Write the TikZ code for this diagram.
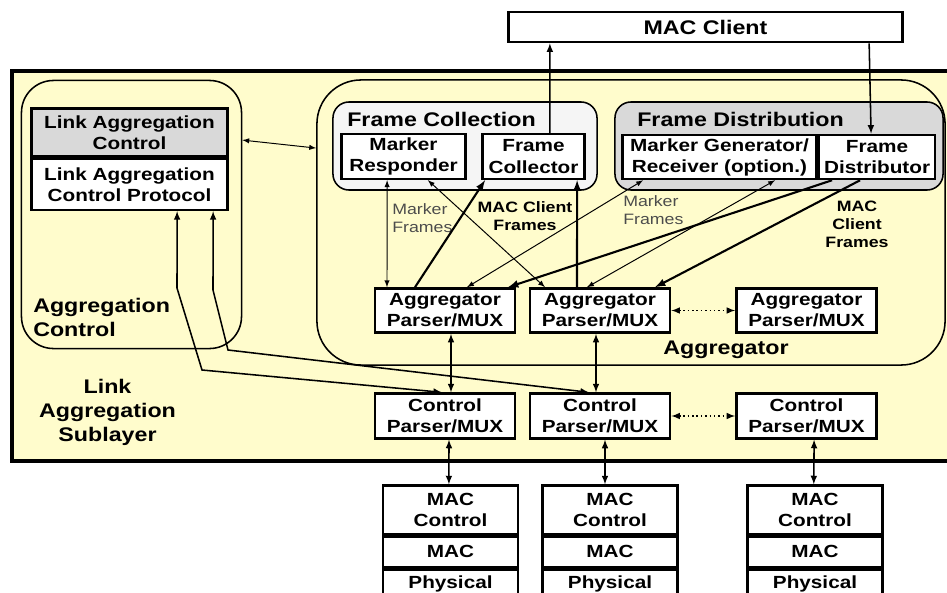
\documentclass[tikz,border=0pt]{standalone}
\usepackage{fontspec}
\setmainfont[FakeStretch=1.18]{Liberation Sans}
\usetikzlibrary{positioning}

\definecolor{sublayer}{RGB}{255,252,204}
\definecolor{boxgray}{RGB}{217,217,217}
\definecolor{collgray}{RGB}{245,245,245}

\newcommand\boxfont{\fontsize{12.5}{15}\selectfont\bfseries}
\newcommand\titlefont{\fontsize{14}{17}\selectfont\bfseries}
\newcommand\notefont{\fontsize{10.7}{12.8}\selectfont}

\tikzset{
  box/.style={draw, line width=1.8pt, fill=white, align=center, inner sep=0pt, font=\boxfont},
  phybox/.style={box, minimum width=3.37cm, minimum height=0.9cm, text depth=0.25cm},
  group/.style={draw, line width=1.1pt, rounded corners=#1, inner sep=0pt},
  group/.default=0.8cm,
  textlbl/.style={inner sep=0pt, align=center},
  thinarr/.style={line width=0.7pt},
  midarr/.style={line width=1.1pt},
  thickarr/.style={line width=1.5pt}
}

\begin{document}
\begin{tikzpicture}[x=0.025cm, y=-0.025cm, >=latex]
  \clip (0,0) rectangle (947,592);

  % sublayer and the two groups inside it
  \draw[line width=2.2pt, fill=sublayer] (12,71) rectangle (955,461);
  \node[group=0.8cm, minimum width=5.5cm, minimum height=6.7cm] (aggctl) at (131.5,214.5) {};
  \node[group=1.1cm, minimum width=15.7cm, minimum height=7.125cm] (aggr) at (631,222.5) {};
  \node[group=0.4cm, fill=collgray, minimum width=6.6cm, minimum height=2.2cm] (fcolbox) at (465,146) {};
  \node[group=0.4cm, fill=boxgray, minimum width=8.2cm, minimum height=2.2cm] (fdisbox) at (779,146) {};

  \node[textlbl, anchor=west, font=\titlefont] (fcoltitle) at (347,119) {Frame Collection};
  \node[textlbl, anchor=west, font=\titlefont] (fdistitle) at (637,119) {Frame Distribution};

  % boxes
  \node[box, font=\titlefont, minimum width=9.85cm, minimum height=0.75cm] (client) at (705.5,27) {MAC Client};

  \node[box, fill=boxgray, minimum width=4.9cm, minimum height=1.2cm] (lac) at (129.5,132.5) {Link Aggregation\\Control};
  \node[box, minimum width=4.9cm, minimum height=1.27cm, below=0pt of lac] (lacp) {Link Aggregation\\Control Protocol};

  \node[box, minimum width=3.1cm, minimum height=1.12cm] (mresp) at (403.5,156.5) {Marker\\Responder};
  \node[box, minimum width=2.55cm, minimum height=1.12cm] (fcoll) at (533.5,156.5) {Frame\\Collector};
  \node[box, minimum width=4.85cm, minimum height=1.1cm] (mgen) at (719.5,157) {Marker Generator/\\Receiver (option.)};
  \node[box, minimum width=2.9cm, minimum height=1.1cm, right=0pt of mgen] (fdist) {Frame\\Distributor};

  \node[box, minimum width=3.5cm, minimum height=1.1cm] (aggA) at (445,310.5) {Aggregator\\Parser/MUX};
  \node[box, minimum width=3.5cm, minimum height=1.1cm] (aggB) at (600,310.5) {Aggregator\\Parser/MUX};
  \node[box, minimum width=3.5cm, minimum height=1.1cm] (aggC) at (806.5,310.5) {Aggregator\\Parser/MUX};

  \node[box, minimum width=3.5cm, minimum height=1.12cm] (ctlA) at (445,416) {Control\\Parser/MUX};
  \node[box, minimum width=3.5cm, minimum height=1.12cm] (ctlB) at (600,416) {Control\\Parser/MUX};
  \node[box, minimum width=3.5cm, minimum height=1.12cm] (ctlC) at (806.5,416) {Control\\Parser/MUX};

  % MAC stacks
  \node[box, minimum width=3.37cm, minimum height=1.22cm] (mcA) at (450.5,510) {MAC\\Control};
  \node[box, minimum width=3.37cm, minimum height=0.75cm, below=0pt of mcA] (macA) {MAC};
  \node[phybox, below=0pt of macA] (phyA) {Physical};
  \node[box, minimum width=3.37cm, minimum height=1.22cm] (mcB) at (610,510) {MAC\\Control};
  \node[box, minimum width=3.37cm, minimum height=0.75cm, below=0pt of mcB] (macB) {MAC};
  \node[phybox, below=0pt of macB] (phyB) {Physical};
  \node[box, minimum width=3.37cm, minimum height=1.22cm] (mcC) at (815,510) {MAC\\Control};
  \node[box, minimum width=3.37cm, minimum height=0.75cm, below=0pt of mcC] (macC) {MAC};
  \node[phybox, below=0pt of macC] (phyC) {Physical};

  % labels
  \node[textlbl, anchor=west, align=left, font=\titlefont] (aggctllbl) at (33,317.5) {Aggregation\\Control};
  \node[textlbl, font=\titlefont] (sublbl) at (107.5,412) {Link\\Aggregation\\Sublayer};
  \node[textlbl, font=\titlefont] (aggrlbl) at (726,350) {Aggregator};
  \node[textlbl, anchor=west, align=left, font=\notefont, text=black!70] (mframesA) at (392,218) {Marker\\Frames};
  \node[textlbl, font=\notefont\bfseries] (cframesA) at (525,216) {MAC Client\\Frames};
  \node[textlbl, anchor=west, align=left, font=\notefont, text=black!70] (mframesB) at (623,210.5) {Marker\\Frames};
  \node[textlbl, font=\notefont\bfseries] (cframesB) at (857,224) {MAC\\Client\\Frames};

  % MAC client
  \draw[->, midarr] ([xshift=0.41cm]fcoll.north) -- ([xshift=-3.89cm]client.south);
  \draw[->, midarr] ([xshift=4.09cm]client.south) -- ([xshift=-0.15cm]fdist.north);
  \draw[<->, thinarr] ([yshift=1.86cm]aggctl.east) -- ([yshift=1.86cm]aggr.west);

  % frame collection / distribution
  \draw[<->, thinarr] ([xshift=-0.41cm]mresp.south) -- ([xshift=-1.45cm]aggA.north);
  \draw[->, thickarr] ([xshift=-0.75cm]aggA.north) -- ([xshift=-1.21cm]fcoll.south);
  \draw[<->, thinarr] ([xshift=-1.375cm]aggB.north) -- ([xshift=0.61cm]mresp.south);
  \draw[->, thickarr] ([xshift=-0.575cm]aggB.north) -- ([xshift=1.09cm]fcoll.south);
  \draw[<->, thinarr] ([xshift=-1.91cm]mgen.south) -- ([xshift=0.55cm]aggA.north);
  \draw[<->, thinarr] ([xshift=1.39cm]mgen.south) -- ([xshift=-0.325cm]aggB.north);
  \draw[->, thickarr] ([xshift=-1.125cm]fdist.south) -- ([xshift=1.575cm]aggA.north);
  \draw[->, thickarr] ([xshift=-0.425cm]fdist.south) -- ([xshift=1.375cm]aggB.north);

  % parsers
  \draw[<->, midarr] ([xshift=0.15cm]aggA.south) -- ([xshift=0.15cm]ctlA.north);
  \draw[<->, midarr] ([xshift=-0.1cm]aggB.south) -- ([xshift=-0.1cm]ctlB.north);
  \draw[<->, midarr, dotted] (aggB.east) -- (aggC.west);
  \draw[<->, midarr, dotted] (ctlB.east) -- (ctlC.west);
  \draw[<->, midarr] ([xshift=0.1cm]ctlA.south) -- ([xshift=-0.04cm]mcA.north);
  \draw[<->, midarr] ([xshift=0.125cm]ctlB.south) -- ([xshift=-0.125cm]mcB.north);
  \draw[<->, midarr] ([xshift=0.19cm]ctlC.south) -- ([xshift=-0.03cm]mcC.north);

  % LACP to control parsers
  \coordinate (kneeA) at (177,288);
  \coordinate (bendA) at (202,370);
  \coordinate (kneeB) at (213,290);
  \coordinate (bendB) at (228,350);
  \draw[<->, midarr] ([xshift=1.19cm]lacp.south) -- (kneeA) -- (bendA) -- ([xshift=-0.075cm]ctlA.north);
  \draw[<->, midarr] ([xshift=2.09cm]lacp.south) -- (kneeB) -- (bendB) -- ([xshift=-0.275cm]ctlB.north);
\end{tikzpicture}
\end{document}
